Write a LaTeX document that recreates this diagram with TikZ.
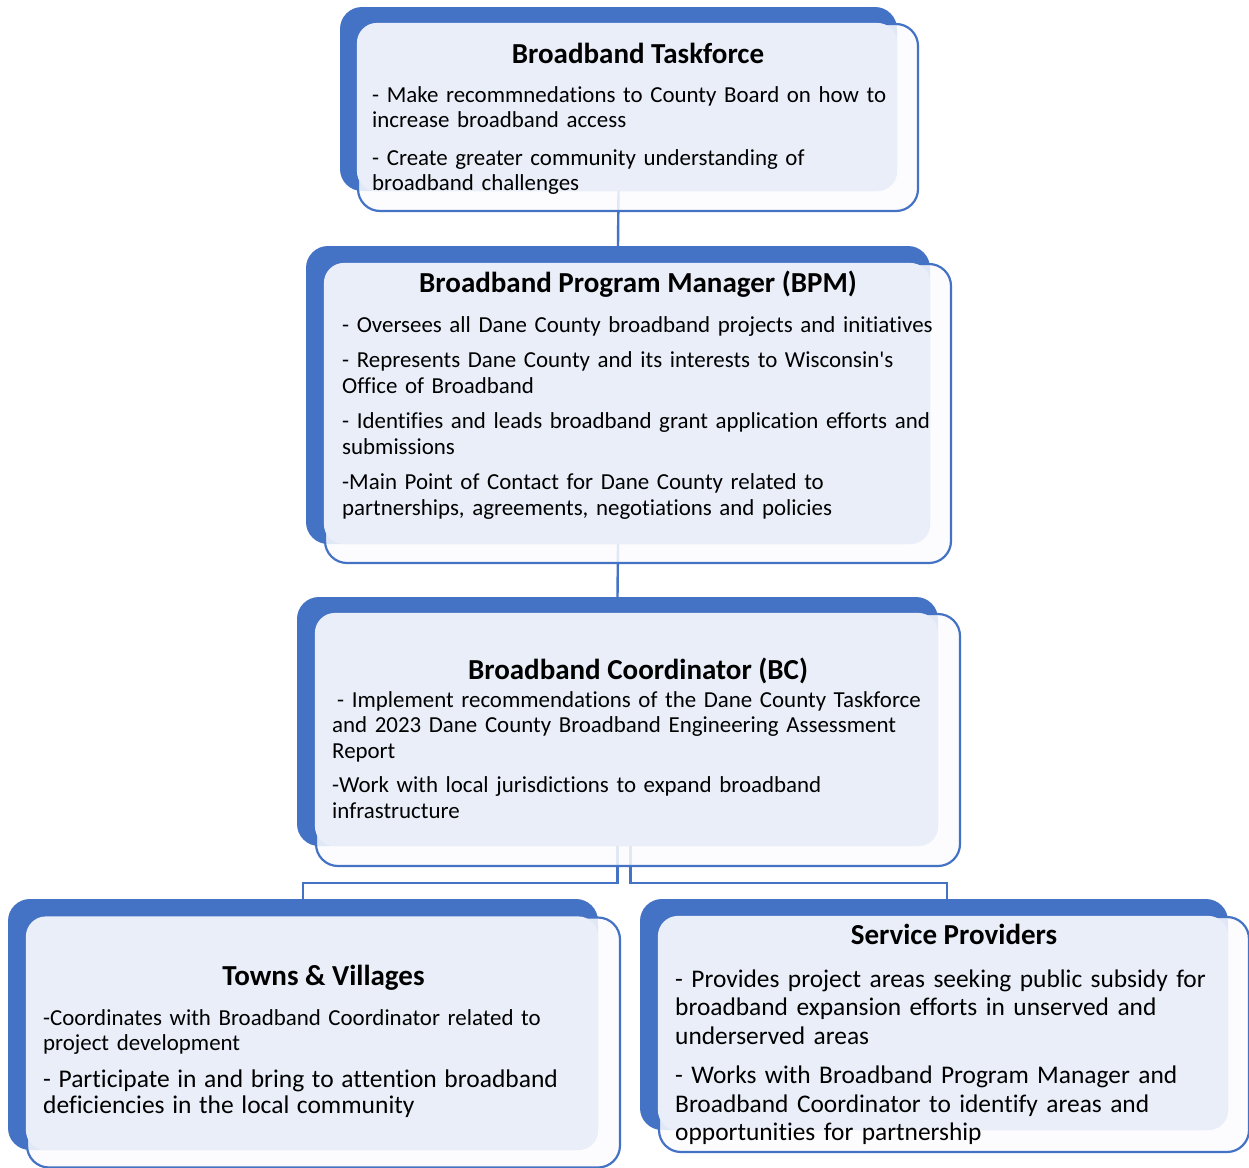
\documentclass[tikz,border=0pt]{standalone}
\usepackage{fontspec}
\setmainfont{Carlito}[Ligatures=NoCommon]
\usepackage{tikz}
\usetikzlibrary{positioning,calc}
\definecolor{cardblue}{RGB}{68,114,196}
\definecolor{cardfill}{RGB}{233,238,248}
\definecolor{cardwhite}{RGB}{252,252,254}

\begin{document}
\begin{tikzpicture}[x=1pt, y=-1pt,
    cardback/.style={fill=cardblue, rounded corners=22pt, inner sep=0pt},
    cardfront/.style={draw=cardblue, line width=2.2pt, fill=cardwhite, fill opacity=0.85, draw opacity=1, rounded corners=22pt, inner sep=0pt},
    cardinner/.style={fill=cardfill, rounded corners=20pt},
    cardtitle/.style={font=\fontsize{29}{32}\selectfont\bfseries, inner sep=0pt, anchor=base},
    cardtext/.style={font=\fontsize{22.9}{25.5}\selectfont, text width=620pt, align=left, inner sep=0pt, anchor=base west},
    link/.style={draw=cardblue, line width=2.4pt}
]
    \fill[white] (0,0) rectangle (1249,1167);
    \useasboundingbox (0,0) rectangle (1249,1167);

    % back plates
    \node[cardback, minimum width=557pt, minimum height=184pt] (tfback) at (618.5,99) {};
    \node[cardback, minimum width=624pt, minimum height=298pt] (bpmback) at (618,395) {};
    \node[cardback, minimum width=641pt, minimum height=249pt] (bcback) at (617.5,721.5) {};
    \node[cardback, minimum width=590pt, minimum height=251pt] (tvback) at (303,1024.5) {};
    \node[cardback, minimum width=588pt, minimum height=231pt] (spback) at (934,1014.5) {};

    % connectors
    \draw[link] (tfback.south) -- (bpmback.north);
    \draw[link] (bpmback.south) -- (bcback.north);
    \draw[link] (bcback.south) -- ++(0,37) -| (tvback.north);
    \draw[link] ($(bcback.south)+(13,0)$) -- ++(0,37) -| ($(spback.north)+(13,0)$);

    % front cards
    \node[cardfront, minimum width=560pt, minimum height=187pt] (tf) at ($(tfback.center)+(19.5,18.5)$) {};
    \node[cardfront, minimum width=626pt, minimum height=299pt] (bpm) at ($(bpmback.center)+(20,18.5)$) {};
    \node[cardfront, minimum width=644pt, minimum height=252pt] (bc) at ($(bcback.center)+(20.5,18.5)$) {};
    \node[cardfront, minimum width=593pt, minimum height=250pt] (tv) at ($(tvback.center)+(20.5,18)$) {};
    \node[cardfront, minimum width=590pt, minimum height=235pt] (sp) at ($(spback.center)+(20,20)$) {};

    \fill[cardinner] (tf.north west) rectangle (tfback.south east);
    \fill[cardinner] (bpm.north west) rectangle (bpmback.south east);
    \fill[cardinner] (bc.north west) rectangle (bcback.south east);
    \fill[cardinner] (tv.north west) rectangle (tvback.south east);
    \fill[cardinner] (sp.north west) rectangle (spback.south east);

    % titles
    \node[cardtitle] (tftitle) at (tf.center |- 0,63) {Broadband Taskforce};
    \node[cardtitle] (bpmtitle) at (bpm.center |- 0,292) {Broadband Program Manager (BPM)};
    \node[cardtitle] (bctitle) at (bc.center |- 0,679) {Broadband Coordinator (BC)};
    \node[cardtitle] (tvtitle) at (tv.center |- 0,985) {Towns \& Villages};
    \node[cardtitle] (sptitle) at (sp.center |- 0,944) {Service Providers};

    % texts
    \node[cardtext] (tftext) at (372,102) {- Make recommnedations to County Board on how to\\
        increase broadband access\\[12pt]
        - Create greater community understanding of\\
        broadband challenges};
    \node[cardtext] (bpmtext) at (342,332) {- Oversees all Dane County broadband projects and initiatives\\[10pt]
        - Represents Dane County and its interests to Wisconsin\textquotesingle s\\
        Office of Broadband\\[10pt]
        - Identifies and leads broadband grant application efforts and\\
        submissions\\[10pt]
        -Main Point of Contact for Dane County related to\\
        partnerships, agreements, negotiations and policies};
    \node[cardtext] (bctext) at (332,707) {\hspace{5pt}- Implement recommendations of the Dane County Taskforce\\
        and 2023 Dane County Broadband Engineering Assessment\\
        Report\\[9pt]
        -Work with local jurisdictions to expand broadband\\
        infrastructure};
    \node[cardtext] (tvtext) at (43,1025) {-Coordinates with Broadband Coordinator related to\\
        project development\par\vspace{9pt}
        \fontsize{25.5}{28}\selectfont
        - Participate in and bring to attention broadband\\
        deficiencies in the local community};
    \node[cardtext, font=\fontsize{25.4}{28.5}\selectfont] (sptext) at (675,987) {- Provides project areas seeking public subsidy for\\
        broadband expansion efforts in unserved and\\
        underserved areas\\[11pt]
        - Works with Broadband Program Manager and\\
        Broadband Coordinator to identify areas and\\
        opportunities for partnership};
\end{tikzpicture}
\end{document}
